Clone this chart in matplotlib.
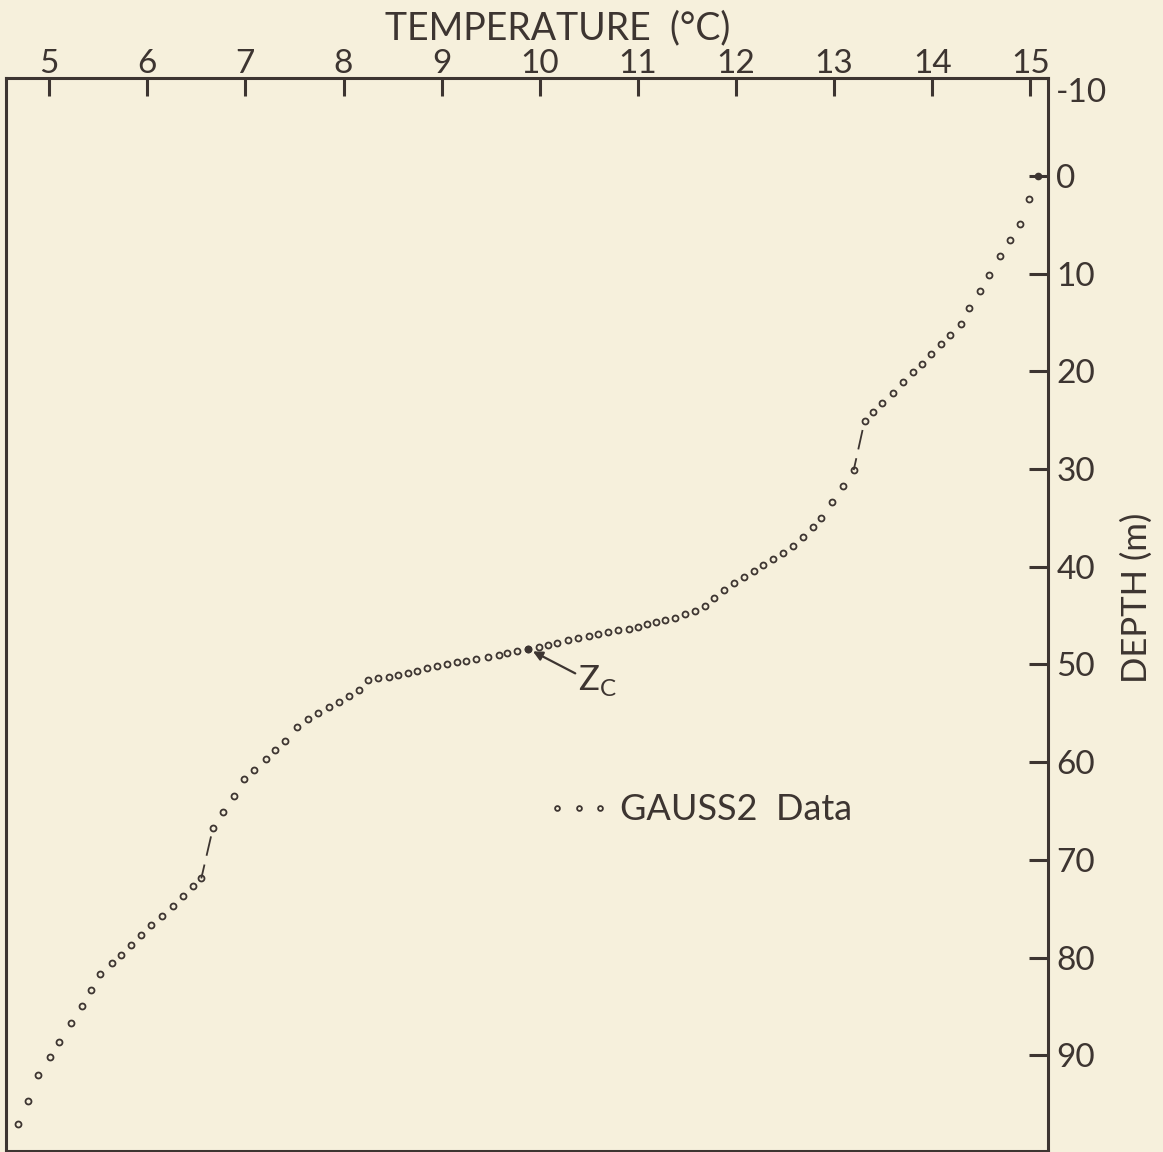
import matplotlib.pyplot as plt

plt.rcParams['font.family'] = ['Lato', 'DejaVu Sans']
plt.rcParams['axes.unicode_minus'] = False

# GAUSS2 profile, surface to bottom: temperature (deg C) and depth (m)
temp = [14.99, 14.89, 14.79, 14.69, 14.58, 14.49, 14.38, 14.29, 14.18, 14.09,
        13.99, 13.90, 13.80, 13.70, 13.60, 13.49, 13.40, 13.31,
        13.20, 13.09, 12.98, 12.87, 12.78, 12.68,
        12.58, 12.48, 12.38, 12.28, 12.18, 12.08, 11.98, 11.88, 11.78, 11.68,
        11.58, 11.48, 11.38, 11.28, 11.18,
        11.09, 11.00, 10.91, 10.80, 10.70, 10.59, 10.50, 10.39, 10.29, 10.18,
        10.08, 9.99, 9.88, 9.77, 9.67, 9.58, 9.47, 9.35, 9.25, 9.16, 9.05,
        8.95, 8.85, 8.75, 8.66, 8.56, 8.46, 8.35, 8.25,
        8.16, 8.06, 7.95, 7.85, 7.74, 7.64, 7.53, 7.40, 7.30, 7.21, 7.09,
        6.99, 6.88, 6.77, 6.67,
        6.55, 6.47, 6.36, 6.26, 6.15, 6.04, 5.94, 5.83, 5.73, 5.64, 5.52,
        5.43, 5.33, 5.22, 5.10, 5.01, 4.89, 4.78, 4.68]
depth = [2.4, 4.9, 6.6, 8.2, 10.1, 11.8, 13.5, 15.2, 16.3, 17.2,
         18.2, 19.2, 20.1, 21.1, 22.2, 23.2, 24.2, 25.1,
         30.1, 31.7, 33.4, 35.0, 35.9, 37.0,
         37.9, 38.6, 39.2, 39.8, 40.4, 41.1, 41.7, 42.4, 43.2, 44.0,
         44.5, 44.8, 45.2, 45.5, 45.7,
         45.9, 46.2, 46.4, 46.5, 46.7, 46.9, 47.1, 47.3, 47.5, 47.8,
         48.0, 48.2, 48.4, 48.6, 48.8, 49.0, 49.2, 49.4, 49.6, 49.7, 50.0,
         50.2, 50.4, 50.7, 50.9, 51.1, 51.3, 51.4, 51.6,
         52.6, 53.2, 53.8, 54.4, 55.0, 55.6, 56.4, 57.8, 58.8, 59.7, 60.8,
         61.7, 63.5, 65.1, 66.7,
         71.9, 72.7, 73.7, 74.7, 75.7, 76.7, 77.7, 78.7, 79.7, 80.6, 81.7,
         83.3, 85.0, 86.7, 88.6, 90.2, 92.0, 94.7, 97.0]
zc = 51            # point marked Z_C
gaps = [17, 82]    # points joined to the next one by a dashed line
surface_temp = [15.08]
surface_depth = [0.0]

xticks = [5, 6, 7, 8, 9, 10, 11, 12, 13, 14, 15]
yticks = [-10, 0, 10, 20, 30, 40, 50, 60, 70, 80, 90]

ink = '#3d3531'
bg = '#f6f0dc'

fig = plt.figure(figsize=(11.63, 11.52), dpi=100, facecolor=bg)
ax = fig.add_axes([0.0052, 0.0009, 0.8959, 0.9314])
ax.set_facecolor(bg)

line, = ax.plot(temp, depth, ls='none', marker='o', ms=4.3, mfc='none',
                mec=ink, mew=1.3, label='GAUSS2  Data')
ax.plot(temp[zc], depth[zc], ls='none', marker='o', ms=4.5, color=ink)
ax.plot(surface_temp, surface_depth, ls='none', marker='o', ms=4.5, color=ink)
for i in gaps:
    ax.plot(temp[i:i + 2], depth[i:i + 2], color=ink, lw=1.3,
            ls=(11, (11, 5)))

ax.annotate(r'Z$_\mathregular{C}$', xy=(temp[zc], depth[zc]),
            xytext=(10.39, 51.6), textcoords='data', ha='left', va='center',
            fontsize=25, color=ink,
            arrowprops=dict(arrowstyle='-|>', color=ink, lw=1.6,
                            mutation_scale=14, shrinkA=0, shrinkB=4,
                            relpos=(0, 0.65)))

ax.set_xlim(4.56, 15.18)
ax.set_ylim(99.8, -10.03)

ax.xaxis.tick_top()
ax.set_xticks(xticks)
ax.set_xticklabels([str(t) for t in xticks])
ax.tick_params(axis='x', direction='in', length=13, width=2.2, pad=-1,
               labelsize=24, colors=ink)
ax.yaxis.tick_right()
ax.set_yticks(yticks)
ax.set_yticklabels([str(t) for t in yticks])
ax.tick_params(axis='y', direction='in', length=14, width=2.2, pad=6,
               labelsize=24, colors=ink)
ax.get_yticklabels()[0].set_va('top')

for s in ax.spines.values():
    s.set_color(ink)
    s.set_linewidth(2.2)

ax.xaxis.set_label_position('top')
ax.set_xlabel('TEMPERATURE  (°C)', fontsize=27, color=ink)
ax.xaxis.label.set_va('center')
ax.xaxis.set_label_coords(0.529, 1.0466)
ax.yaxis.set_label_position('right')
ax.set_ylabel('DEPTH (m)', fontsize=25, color=ink, rotation=90)
ax.yaxis.label.set_va('center')
ax.yaxis.set_label_coords(1.0854, 0.5154)

ax.legend(handles=[line], loc='center left', bbox_to_anchor=(0.5188, 0.3178),
          frameon=False, numpoints=3, markerscale=0.8, handlelength=1.79,
          handletextpad=0.25, borderpad=0, borderaxespad=0, fontsize=26,
          labelcolor=ink)

fig.savefig('out.png', dpi=100, facecolor=bg)
